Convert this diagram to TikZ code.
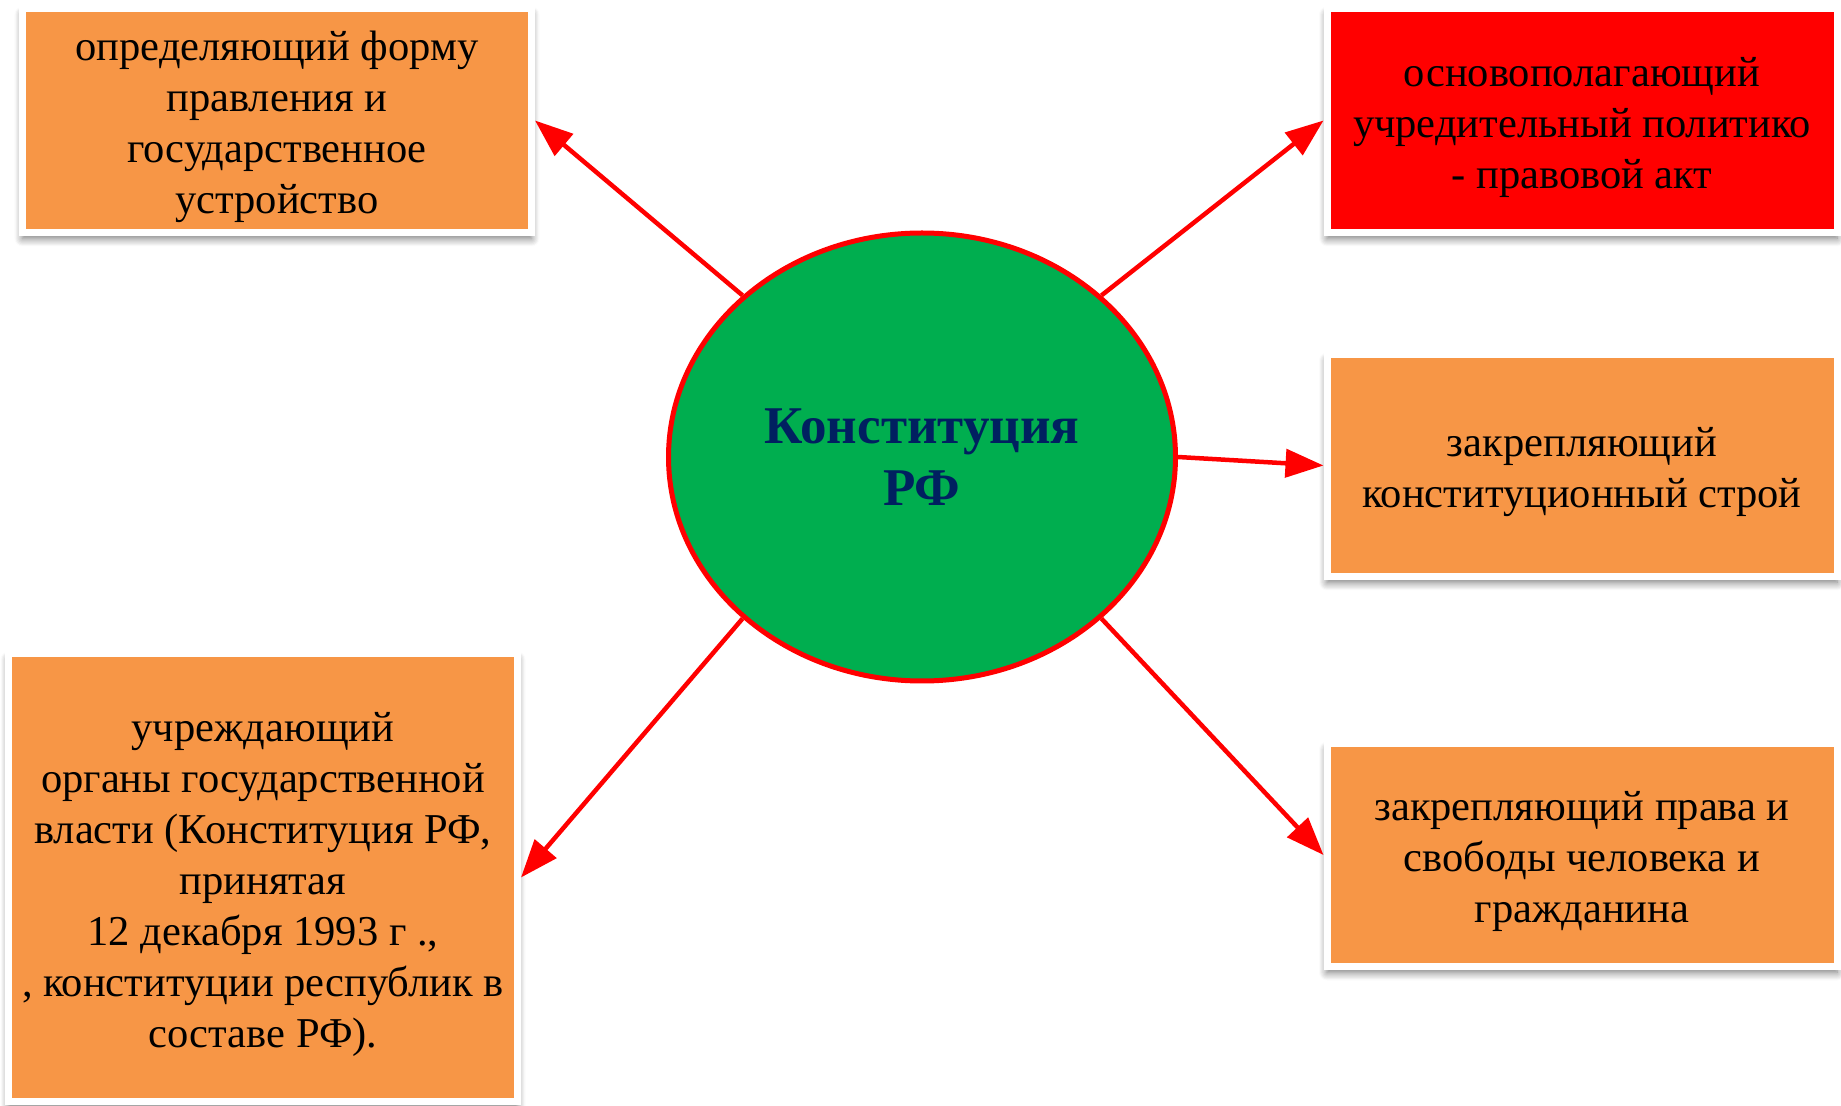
\documentclass[tikz,border=0pt]{standalone}
\usepackage{fontspec}
\setmainfont{Liberation Serif}
\usetikzlibrary{arrows.meta,positioning,shapes,shadows.blur}
\definecolor{boxorange}{HTML}{F79646}
\definecolor{ovalgreen}{HTML}{00AE4F}
\definecolor{titleblue}{HTML}{002060}
\newcommand{\boxlines}[1]{\raisebox{-0.065cm}[\height][\depth]{\begin{tabular}{@{}c@{}}#1\end{tabular}}}

\begin{document}
\begin{tikzpicture}[
    box/.style={draw=white,line width=0.07cm,fill=boxorange,minimum width=5.1cm,minimum height=2.24cm,
      inner sep=0pt,font=\fontsize{12.1}{14.5}\selectfont,
      blur shadow={shadow xshift=0cm,shadow yshift=-0.06cm,shadow blur radius=0.08cm,shadow blur steps=8,shadow opacity=55}},
    link/.style={red,line width=0.045cm,-{Triangle[length=0.38cm,width=0.28cm]}}]
    \useasboundingbox (0,0) rectangle (18.41,11.05);
    % centre
    \node[ellipse,draw=red,line width=0.05cm,fill=ovalgreen,minimum width=5.07cm,minimum height=4.48cm,
      align=center,text=titleblue,font=\bfseries\fontsize{15.1}{17.8}\selectfont] (konst) at (9.22,6.48) {Конституция\\РФ};
    % right column
    \node[box,right=1.455cm of konst,yshift=-0.085cm,minimum height=2.22cm] (stroi) {\boxlines{закрепляющий\\конституционный строй}};
    \node[box,fill=red,above=1.15cm of stroi] (akt) {\boxlines{основополагающий\\учредительный политико\\- правовой акт}};
    \node[box,below=1.60cm of stroi,minimum height=2.23cm] (prava) {\boxlines{закрепляющий права и\\свободы человека и\\гражданина}};
    % left column
    \node[box,minimum width=5.09cm] (forma) at (2.77,9.845) {\boxlines{определяющий форму\\правления и\\государственное\\устройство}};
    \node[box,minimum width=5.09cm,minimum height=4.48cm] (organy) at (2.63,2.275) {\boxlines{учреждающий\\органы государственной\\власти (Конституция РФ,\\принятая\\12 декабря 1993 г .,\\, конституции республик в\\составе РФ).}};
    \draw[link] (konst.138) -- (forma.east);
    \draw[link] (konst.42) -- (akt.west);
    \draw[link] (konst.east) -- (stroi.west);
    \draw[link] (konst.-42) -- (prava.west);
    \draw[link] (konst.-138) -- (organy.east);
\end{tikzpicture}
\end{document}
